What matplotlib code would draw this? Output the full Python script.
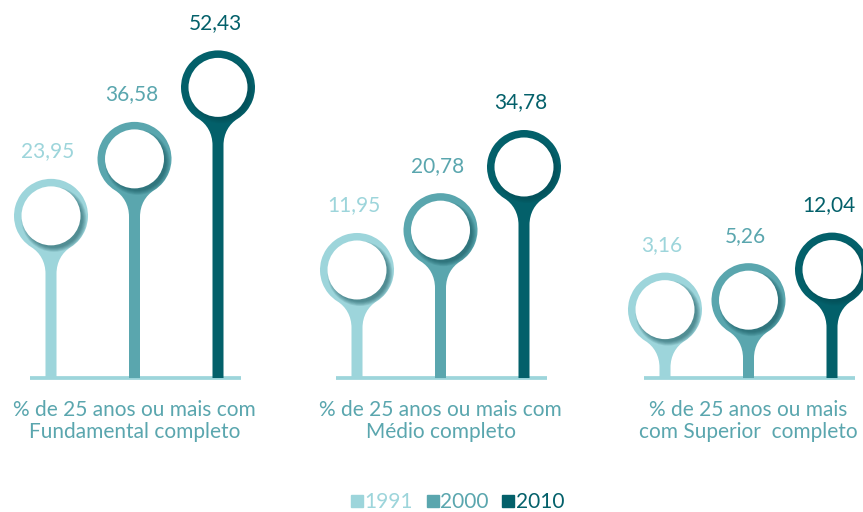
import matplotlib.pyplot as plt
from matplotlib.path import Path
from matplotlib.patches import PathPatch, Ellipse
from matplotlib.lines import Line2D
import numpy as np

categories = ['% de 25 anos ou mais com\nFundamental completo',
              '% de 25 anos ou mais com\nMédio completo',
              '% de 25 anos ou mais\ncom Superior  completo']
years = ['1991', '2000', '2010']
v1991 = [23.95, 11.95, 3.16]
v2000 = [36.58, 20.78, 5.26]
v2010 = [52.43, 34.78, 12.04]
colors = ['#9dd5db', '#5aa6ae', '#03606a']

plt.rcParams['font.family'] = ['Lato', 'DejaVu Sans']

W, H = 863, 512
fig = plt.figure(figsize=(W / 100, H / 100), dpi=100)
ax = fig.add_axes([0, 0, 1, 1])
ymin, ymax = -29.7, 83.8
ax.set_xlim(0, W)
ax.set_ylim(ymin, ymax)
ax.axis('off')
ppu = H / (ymax - ymin)   # pixels per value unit

head_pad = 12.0       # head centre sits this far above the value
R, r_in = 37, 29.5    # ring outer / inner radius (px)
neck, half_w = 58, 5.5
group_x = [51, 357, 665]
step = 83.5


def pin_path(cx, top, color):
    cy = top + head_pad
    h_px = cy * ppu
    t1, t2 = np.radians(238), np.radians(302)
    arc = Path.arc(302, 238)
    verts = [(x * R, y * R) for x, y in arc.vertices]
    codes = list(arc.codes)
    p0 = np.array([R * np.cos(t2), R * np.sin(t2)])
    d = np.array([-np.sin(t2), np.cos(t2)])
    p0l = np.array([R * np.cos(t1), R * np.sin(t1)])
    dl = np.array([-np.sin(t1), np.cos(t1)])
    # left flare down into the stem, stem to baseline, right flare back up
    verts += [tuple(p0l + 10 * dl), (-half_w, -neck + 12), (-half_w, -neck),
              (-half_w, -h_px), (half_w, -h_px), (half_w, -neck),
              (half_w, -neck + 12), tuple(p0 - 10 * d), tuple(p0), tuple(p0)]
    codes += [Path.CURVE4, Path.CURVE4, Path.CURVE4,
              Path.LINETO, Path.LINETO, Path.LINETO,
              Path.CURVE4, Path.CURVE4, Path.CURVE4, Path.CLOSEPOLY]
    verts = [(cx + x, cy + y / ppu) for x, y in verts]
    patch = PathPatch(Path(verts, codes), facecolor=color, edgecolor='none', zorder=2)
    ax.add_patch(patch)

    # soft shadow under the white disc, lower right only
    for i in range(6):
        rr = r_in - 1 + 0.8 * i
        sh = Ellipse((cx + 3, cy - 3.5 / ppu), 2 * rr, 2 * rr / ppu,
                     facecolor='#0a4a52', edgecolor='none', alpha=0.11, zorder=3)
        ax.add_patch(sh)
        sh.set_clip_path(patch)
    ax.add_patch(Ellipse((cx, cy), 2 * r_in, 2 * r_in / ppu,
                         facecolor='white', edgecolor='none', zorder=4))
    return cy


for g, gx in enumerate(group_x):
    ax.plot([gx - 21, gx + 190], [0, 0], color=colors[0], lw=2.7,
            solid_capstyle='butt', zorder=1)
    for s, vals in enumerate([v1991, v2000, v2010]):
        cx = gx + s * step
        cy = pin_path(cx, vals[g], colors[s])
        ax.text(cx - 3, cy + 64.5 / ppu, f'{vals[g]:.2f}'.replace('.', ','),
                ha='center', va='center', fontsize=15, color=colors[s])
    ax.text(gx + step, -22 / ppu, categories[g], ha='center', va='top',
            fontsize=15, color=colors[1], linespacing=1.12)

handles = [Line2D([], [], marker='s', linestyle='', color=c, markersize=8.5)
           for c in colors]
fig.legend(handles, years, loc='center', bbox_to_anchor=(457 / W, 1 - 502 / H),
           ncol=3, frameon=False, fontsize=15, labelcolor='markerfacecolor',
           handletextpad=0.0, columnspacing=0.6, handlelength=0.7)

fig.savefig('out.png', dpi=100)
